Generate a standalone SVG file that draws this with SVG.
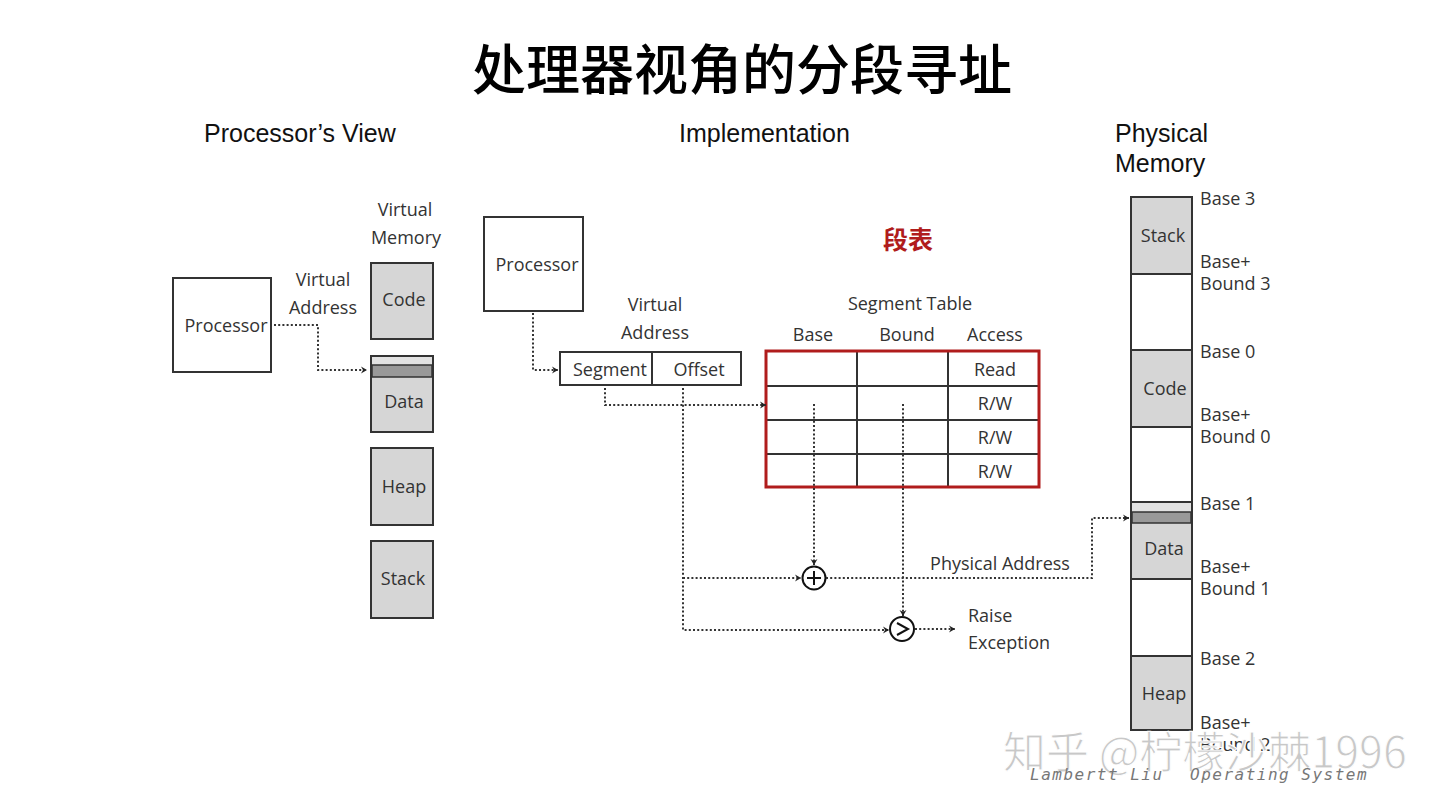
<svg xmlns="http://www.w3.org/2000/svg" width="1440" height="810" viewBox="0 0 1440 810">
  <defs>
    <style>
      .title { font-family: "Noto Sans CJK SC", serif; font-size: 54px; font-weight: 500; fill: #000; }
      .hdr { font-family: "Liberation Sans", Arial, sans-serif; font-size: 25px; fill: #111; }
      .lbl { font-family: "Open Sans", "Liberation Sans", sans-serif; font-size: 18px; fill: #333; }
      .red { font-family: "Noto Sans CJK SC", sans-serif; font-size: 25px; font-weight: 700; fill: #b01c1c; }
      .box { fill: #fff; stroke: #333; stroke-width: 2; }
      .seg { fill: #d6d6d6; stroke: #333; stroke-width: 2; }
      .free { fill: #fff; stroke: #333; stroke-width: 2; }
      .dot { fill: none; stroke: #333; stroke-width: 2; stroke-dasharray: 2 2.2; }
      .grid { stroke: #333; stroke-width: 2; fill: none; }
      .wm { font-family: "Noto Sans CJK SC", sans-serif; font-size: 43px; fill: #c8c8c8; stroke: #fff; stroke-width: 1; }
      .wm2 { font-family: "DejaVu Sans Mono", monospace; font-style: italic; font-size: 16px; fill: #777; letter-spacing: 1.5px; }
    </style>
    <marker id="arr" viewBox="0 0 8 8" refX="7" refY="4" markerWidth="8" markerHeight="8" markerUnits="userSpaceOnUse" orient="auto">
      <path d="M1,0.5 L7,4 L1,7.5 L3,4 Z" fill="#222"/>
    </marker>
  </defs>

  <rect width="1440" height="810" fill="#fff"/>

  <!-- title and section headings -->
  <text class="title" x="742" y="90" text-anchor="middle">处理器视角的分段寻址</text>
  <text class="hdr" x="204" y="142">Processor’s View</text>
  <text class="hdr" x="679" y="142">Implementation</text>
  <text class="hdr" x="1115" y="142">Physical</text>
  <text class="hdr" x="1115" y="172">Memory</text>

  <!-- processor's view -->
  <g id="pv-processor">
    <rect class="box" x="173" y="278" width="98" height="94"/>
    <text class="lbl" x="226" y="332" text-anchor="middle">Processor</text>
  </g>
  <g id="pv-va-label">
    <text class="lbl" x="323" y="286" text-anchor="middle">Virtual</text>
    <text class="lbl" x="323" y="314" text-anchor="middle">Address</text>
  </g>
  <g id="pv-vm-label">
    <text class="lbl" x="405" y="216" text-anchor="middle">Virtual</text>
    <text class="lbl" x="406" y="244" text-anchor="middle">Memory</text>
  </g>
  <g id="pv-code">
    <rect class="seg" x="371" y="263" width="62" height="76"/>
    <text class="lbl" x="404" y="306" text-anchor="middle">Code</text>
  </g>
  <g id="pv-data">
    <rect class="seg" x="371" y="356" width="62" height="76"/>
    <rect x="372" y="357" width="60" height="8" fill="#e2e2e2"/>
    <rect x="372" y="365" width="60" height="12" fill="#999" stroke="#333" stroke-width="1.5"/>
    <text class="lbl" x="404" y="408" text-anchor="middle">Data</text>
  </g>
  <g id="pv-heap">
    <rect class="seg" x="371" y="448" width="62" height="77"/>
    <text class="lbl" x="404" y="493" text-anchor="middle">Heap</text>
  </g>
  <g id="pv-stack">
    <rect class="seg" x="371" y="541" width="62" height="77"/>
    <text class="lbl" x="403" y="585" text-anchor="middle">Stack</text>
  </g>

  <!-- implementation -->
  <g id="im-processor">
    <rect class="box" x="484" y="217" width="99" height="94"/>
    <text class="lbl" x="537" y="271" text-anchor="middle">Processor</text>
  </g>
  <g id="im-va-label">
    <text class="lbl" x="655" y="311" text-anchor="middle">Virtual</text>
    <text class="lbl" x="655" y="339" text-anchor="middle">Address</text>
  </g>
  <g id="im-va">
    <rect class="box" x="560" y="352" width="181" height="33"/>
    <line class="grid" x1="652" y1="352" x2="652" y2="385"/>
    <text class="lbl" x="610" y="376" text-anchor="middle">Segment</text>
    <text class="lbl" x="699" y="376" text-anchor="middle">Offset</text>
  </g>
  <g id="seg-table-caption">
    <text class="red" x="908" y="249" text-anchor="middle">段表</text>
    <text class="lbl" x="910" y="310" text-anchor="middle">Segment Table</text>
    <text class="lbl" x="813" y="341" text-anchor="middle">Base</text>
    <text class="lbl" x="907" y="341" text-anchor="middle">Bound</text>
    <text class="lbl" x="995" y="341" text-anchor="middle">Access</text>
  </g>
  <g id="seg-table">
    <rect x="765" y="350" width="275" height="138" fill="#fff"/>
    <path class="grid" d="M857,350 V488 M948,350 V488 M765,386 H1040 M765,420 H1040 M765,454 H1040"/>
    <rect x="766" y="351" width="273" height="136" fill="none" stroke="#b01c1c" stroke-width="3"/>
    <text class="lbl" x="995" y="376" text-anchor="middle">Read</text>
    <text class="lbl" x="995" y="410" text-anchor="middle">R/W</text>
    <text class="lbl" x="995" y="444" text-anchor="middle">R/W</text>
    <text class="lbl" x="995" y="478" text-anchor="middle">R/W</text>
  </g>
  <g id="adder">
    <circle cx="814" cy="578" r="11.5" fill="#fff" stroke="#111" stroke-width="2"/>
    <path d="M814,571 V585 M807,578 H821" stroke="#111" stroke-width="2"/>
  </g>
  <g id="comparator">
    <circle cx="902" cy="629" r="12" fill="#fff" stroke="#111" stroke-width="2"/>
    <path d="M897,623 L908,629 L897,635" fill="none" stroke="#111" stroke-width="2"/>
  </g>
  <g id="im-labels">
    <text class="lbl" x="1000" y="570" text-anchor="middle">Physical Address</text>
    <text class="lbl" x="968" y="622">Raise</text>
    <text class="lbl" x="968" y="649">Exception</text>
  </g>

  <!-- physical memory -->
  <g id="pm-stack">
    <rect class="seg" x="1131" y="197" width="61" height="77"/>
    <text class="lbl" x="1163" y="242" text-anchor="middle">Stack</text>
  </g>
  <g id="pm-free-1"><rect class="free" x="1131" y="274" width="61" height="76"/></g>
  <g id="pm-code">
    <rect class="seg" x="1131" y="350" width="61" height="77"/>
    <text class="lbl" x="1165" y="395" text-anchor="middle">Code</text>
  </g>
  <g id="pm-free-2"><rect class="free" x="1131" y="427" width="61" height="75"/></g>
  <g id="pm-data">
    <rect class="seg" x="1131" y="502" width="61" height="77"/>
    <rect x="1132" y="503" width="59" height="9" fill="#e2e2e2"/>
    <rect x="1132" y="512" width="59" height="11" fill="#999" stroke="#333" stroke-width="1.5"/>
    <text class="lbl" x="1164" y="555" text-anchor="middle">Data</text>
  </g>
  <g id="pm-free-3"><rect class="free" x="1131" y="579" width="61" height="77"/></g>
  <g id="pm-heap">
    <rect class="seg" x="1131" y="656" width="61" height="74"/>
    <text class="lbl" x="1164" y="700" text-anchor="middle">Heap</text>
  </g>
  <g id="pm-labels">
    <text class="lbl" x="1200" y="205">Base 3</text>
    <text class="lbl" x="1200" y="268">Base+</text>
    <text class="lbl" x="1200" y="290">Bound 3</text>
    <text class="lbl" x="1200" y="358">Base 0</text>
    <text class="lbl" x="1200" y="421">Base+</text>
    <text class="lbl" x="1200" y="443">Bound 0</text>
    <text class="lbl" x="1200" y="510">Base 1</text>
    <text class="lbl" x="1200" y="573">Base+</text>
    <text class="lbl" x="1200" y="595">Bound 1</text>
    <text class="lbl" x="1200" y="665">Base 2</text>
    <text class="lbl" x="1200" y="729">Base+</text>
    <text class="lbl" x="1200" y="751">Bound 2</text>
  </g>

  <!-- dotted connectors -->
  <g id="connectors">
    <path class="dot" d="M274,325 H318 V370 H367" marker-end="url(#arr)"/>
    <path class="dot" d="M533,313 V370 H558" marker-end="url(#arr)"/>
    <path class="dot" d="M605,388 V405 H766" marker-end="url(#arr)"/>
    <path class="dot" d="M683,388 V630 H889" marker-end="url(#arr)"/>
    <path class="dot" d="M683,578 H801" marker-end="url(#arr)"/>
    <path class="dot" d="M814,404 V565" marker-end="url(#arr)"/>
    <path class="dot" d="M903,404 V616" marker-end="url(#arr)"/>
    <path class="dot" d="M826,578 H1092 V518 H1129" marker-end="url(#arr)"/>
    <path class="dot" d="M915,629 H955" marker-end="url(#arr)"/>
  </g>

  <!-- signature overlay -->
  <g id="signature">
    <text class="wm" x="1003" y="768">知乎 @柠檬沙棘1996</text>
    <text class="wm2" x="1030" y="780">Lambertt Liu</text>
    <text class="wm2" x="1190" y="780">Operating System</text>
  </g>
</svg>
